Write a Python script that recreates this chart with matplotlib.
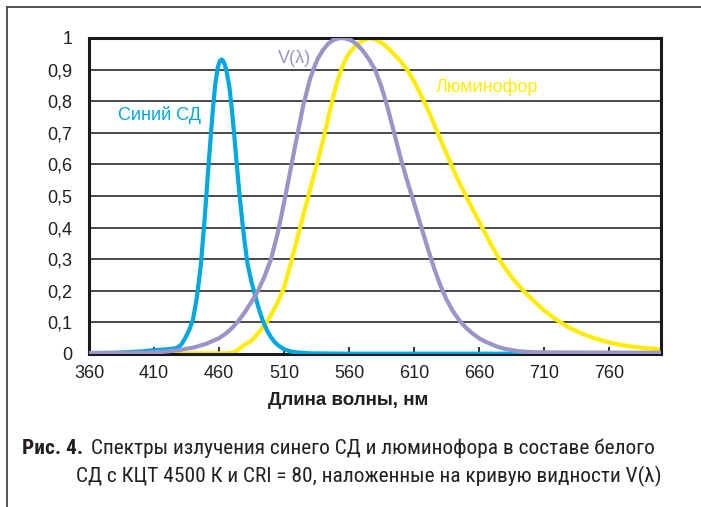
import matplotlib
matplotlib.use("Agg")
import matplotlib.pyplot as plt
from matplotlib import font_manager
from matplotlib.lines import Line2D

# wavelength, nm / relative intensity
blue_wl = [360, 380, 400, 410, 420, 425, 428, 431, 434, 437, 440, 443, 446, 449, 452, 455, 457, 459, 460, 461, 462,
           463, 464, 465, 466, 468, 470, 472, 474, 476, 478, 480, 482, 485, 488, 491, 494, 497, 500, 503, 506, 510,
           515, 520, 530, 560, 800]
blue_val = [0.003, 0.004, 0.008, 0.012, 0.015, 0.017, 0.02, 0.03, 0.05, 0.075, 0.11, 0.18, 0.28, 0.43, 0.6, 0.76,
            0.85, 0.905, 0.92, 0.929, 0.932, 0.929, 0.92, 0.908, 0.89, 0.845, 0.77, 0.68, 0.585, 0.495, 0.415, 0.345,
            0.285, 0.228, 0.182, 0.138, 0.102, 0.074, 0.053, 0.037, 0.026, 0.015, 0.008, 0.005, 0.002, 0.001, 0.001]

v_wl = [360, 380, 400, 410, 420, 430, 440, 450, 460, 465, 470, 475, 480, 485, 490, 495, 500, 505, 510, 515, 520,
        525, 530, 533, 536, 540, 544, 548, 552, 555, 558, 562, 566, 570, 575, 580, 585, 590, 595, 600, 605, 610,
        615, 620, 625, 630, 635, 640, 645, 650, 655, 660, 665, 670, 675, 680, 690, 700, 710, 800]
v_val = [0.003, 0.003, 0.004, 0.005, 0.008, 0.013, 0.02, 0.032, 0.05, 0.064, 0.082, 0.105, 0.133, 0.165, 0.2,
         0.245, 0.3, 0.38, 0.478, 0.583, 0.688, 0.79, 0.87, 0.905, 0.935, 0.962, 0.982, 0.994, 0.999, 1.0, 0.998,
         0.992, 0.98, 0.963, 0.935, 0.9, 0.845, 0.775, 0.695, 0.615, 0.545, 0.478, 0.41, 0.342, 0.277, 0.22, 0.172,
         0.135, 0.106, 0.083, 0.065, 0.05, 0.039, 0.03, 0.022, 0.016, 0.009, 0.006, 0.005, 0.004]

ph_wl = [360, 465, 470, 473, 476, 480, 485, 490, 495, 500, 505, 510, 515, 520, 525, 530, 535, 540, 545, 550, 554,
         558, 562, 566, 570, 575, 580, 585, 590, 595, 600, 605, 610, 615, 620, 625, 630, 635, 640, 645, 650, 655,
         660, 665, 670, 675, 680, 685, 690, 695, 700, 710, 720, 730, 740, 750, 760, 770, 780, 790, 800]
ph_val = [0.002, 0.002, 0.004, 0.008, 0.018, 0.03, 0.042, 0.065, 0.09, 0.123, 0.162, 0.21, 0.283, 0.363, 0.442,
          0.52, 0.595, 0.675, 0.765, 0.848, 0.9, 0.938, 0.962, 0.978, 0.991, 1.0, 0.996, 0.985, 0.968, 0.947, 0.925,
          0.898, 0.863, 0.823, 0.78, 0.732, 0.683, 0.634, 0.586, 0.541, 0.5, 0.459, 0.42, 0.38, 0.341, 0.304, 0.272,
          0.244, 0.219, 0.197, 0.176, 0.138, 0.107, 0.082, 0.063, 0.048, 0.037, 0.028, 0.022, 0.018, 0.015]

x_ticks = [360, 410, 460, 510, 560, 610, 660, 710, 760]
y_ticks = [0, 0.1, 0.2, 0.3, 0.4, 0.5, 0.6, 0.7, 0.8, 0.9, 1]
y_labels = ["0", "0,1", "0,2", "0,3", "0,4", "0,5", "0,6", "0,7", "0,8", "0,9", "1"]

BLUE = "#00a8e1"
VIOLET = "#9b94c9"
YELLOW = "#ffec00"
DARK = "#231f20"

names = {f.name for f in font_manager.fontManager.ttflist}
narrow = "Roboto"
for cand in ["Roboto Condensed", "Liberation Sans Narrow", "Open Sans Condensed"]:
	if cand in names:
		narrow = cand
		break
cap_size = 15.4 if narrow != "Roboto" else 13.8
plt.rcParams["font.family"] = ["Liberation Sans", "DejaVu Sans"]

W, H = 701, 507
fig = plt.figure(figsize=(W / 100, H / 100), dpi=100)
ax = fig.add_axes([89 / W, 1 - 354 / H, (661 - 89) / W, (354 - 38) / H])

for y in y_ticks[1:-1]:
	ax.axhline(y, color="#3a3a3a", lw=1.3, zorder=1)

ax.plot(blue_wl, blue_val, color=BLUE, lw=3, zorder=3, solid_joinstyle="round")
ax.plot(v_wl, v_val, color=VIOLET, lw=3, zorder=4, solid_joinstyle="round")
ax.plot(ph_wl, ph_val, color=YELLOW, lw=3, zorder=2, solid_joinstyle="round")

ax.set_xlim(360, 800)
ax.set_ylim(0, 1)
ax.set_xticks(x_ticks)
ax.set_yticks(y_ticks)
ax.set_yticklabels(y_labels)
ax.tick_params(axis="x", direction="in", length=5, width=1.3, pad=8, labelsize=13, colors=DARK)
ax.tick_params(axis="y", length=0, pad=12, labelsize=13, colors=DARK)
for s in ax.spines.values():
	s.set_linewidth(2.2)
	s.set_color("#1a1a1a")
ax.set_xlabel("Длина волны, нм", fontsize=13.5, fontweight="bold", color=DARK, labelpad=7)
ax.xaxis.label.set_x((348 - 89) / (661 - 89))

ax.text(382, 0.756, "Синий СД", color=BLUE, fontsize=13, va="center", ha="left")
ax.text(505, 0.934, "V(λ)", color=VIOLET, fontsize=13, va="center", ha="left")
ax.text(627, 0.845, "Люминофор", color=YELLOW, fontsize=13, va="center", ha="left")

# caption
fig.text(22 / W, 1 - 454 / H, "Рис. 4.", fontsize=cap_size, fontweight="bold", family=narrow, color=DARK,
         va="baseline")
fig.text(91 / W, 1 - 454 / H, "Спектры излучения синего СД и люминофора в составе белого",
         fontsize=cap_size, family=narrow, color=DARK, va="baseline")
fig.text(76 / W, 1 - 482 / H, "СД с КЦТ 4500 К и CRI = 80, наложенные на кривую видности V(λ)",
         fontsize=cap_size, family=narrow, color=DARK, va="baseline")

# frame around the figure
fig.add_artist(Line2D([6.5 / W, 1], [1 - 7 / H, 1 - 7 / H], color="#444444", lw=1.3))
fig.add_artist(Line2D([6.5 / W, 6.5 / W], [0, 1 - 7 / H], color="#444444", lw=1.3))

fig.savefig("out.png", dpi=100)
